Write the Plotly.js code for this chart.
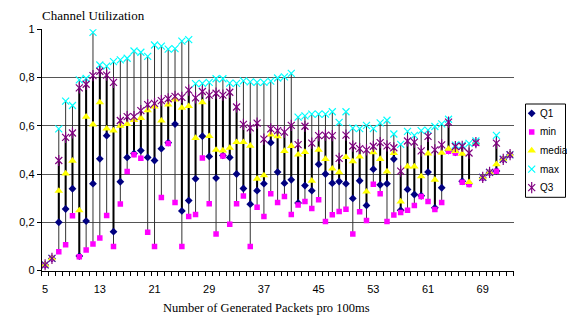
<!DOCTYPE html>
<html><head><meta charset="utf-8">
<script src="https://cdn.plot.ly/plotly-3.0.1.min.js"></script>
<style>html,body{margin:0;padding:0;background:#fff;overflow:hidden}</style>
</head><body><div id="chart" style="width:567px;height:316px"></div>
<script>
const packets = [5,6,7,8,9,10,11,12,13,14,15,16,17,18,19,20,21,22,23,24,25,26,27,28,29,30,31,32,33,34,35,36,37,38,39,40,41,42,43,44,45,46,47,48,49,50,51,52,53,54,55,56,57,58,59,60,61,62,63,64,65,66,67,68,69,70,71,72,73];
const minV = [0.023,0.05,0.078,0.107,0.227,0.057,0.085,0.11,0.135,0.228,
  0.099,0.276,0.41,0.48,0.465,0.159,0.099,0.303,0.527,0.282,
  0.099,0.224,0.232,0.466,0.277,0.151,0.475,0.192,0.277,0.309,
  0.099,0.262,0.224,0.318,0.282,0.307,0.232,0.272,0.286,0.257,
  0.293,0.203,0.231,0.245,0.254,0.151,0.244,0.207,0.358,0.318,
  0.203,0.23,0.24,0.25,0.27,0.307,0.286,0.253,0.282,0.494,
  0.487,0.366,0.357,0.528,0.385,0.406,0.411,0.461,0.48];
const q1 = [0.023,0.05,0.20,0.255,0.339,0.06,0.205,0.36,0.463,0.559,
  0.161,0.368,0.469,0.485,0.497,0.469,0.456,0.505,0.53,0.607,
  0.247,0.29,0.38,0.557,0.473,0.383,0.477,0.469,0.40,0.34,
  0.275,0.331,0.36,0.53,0.408,0.362,0.376,0.28,0.352,0.331,
  0.44,0.40,0.362,0.369,0.36,0.299,0.372,0.27,0.42,0.355,
  0.36,0.462,0.25,0.336,0.315,0.31,0.408,0.26,0.343,0.497,
  0.49,0.37,0.36,0.528,0.385,0.406,0.413,0.461,0.48];
const media = [0.023,0.05,0.33,0.402,0.455,0.249,0.637,0.605,0.697,0.588,
  0.58,0.60,0.607,0.623,0.632,0.664,0.679,0.621,0.688,0.708,
  0.674,0.681,0.549,0.697,0.557,0.50,0.497,0.508,0.532,0.532,
  0.517,0.38,0.394,0.563,0.556,0.495,0.516,0.48,0.491,0.372,
  0.50,0.462,0.422,0.407,0.47,0.452,0.472,0.327,0.49,0.462,
  0.41,0.487,0.286,0.431,0.431,0.39,0.485,0.376,0.488,0.504,
  0.495,0.484,0.366,0.53,0.386,0.407,0.44,0.461,0.48];
const q3 = [0.023,0.05,0.456,0.552,0.57,0.757,0.772,0.808,0.826,0.81,
  0.78,0.622,0.638,0.638,0.663,0.688,0.693,0.704,0.712,0.722,
  0.718,0.748,0.716,0.742,0.727,0.735,0.727,0.739,0.678,0.606,
  0.591,0.611,0.545,0.587,0.58,0.574,0.602,0.522,0.598,0.528,
  0.559,0.561,0.559,0.465,0.561,0.516,0.505,0.50,0.515,0.53,
  0.517,0.509,0.412,0.537,0.532,0.496,0.556,0.50,0.521,0.615,
  0.514,0.515,0.487,0.53,0.386,0.407,0.528,0.461,0.48];
const maxV = [0.023,0.05,0.587,0.702,0.684,0.79,0.796,0.987,0.852,0.847,
  0.866,0.873,0.88,0.91,0.905,0.888,0.935,0.93,0.918,0.92,
  0.951,0.957,0.775,0.776,0.78,0.795,0.795,0.777,0.776,0.786,
  0.782,0.78,0.78,0.785,0.798,0.803,0.817,0.636,0.641,0.648,
  0.648,0.648,0.658,0.614,0.658,0.59,0.588,0.602,0.588,0.612,
  0.623,0.566,0.523,0.577,0.56,0.58,0.582,0.597,0.608,0.627,
  0.52,0.52,0.527,0.537,0.386,0.407,0.56,0.462,0.48];
const xTickVals = [5,13,21,29,37,45,53,61,69];
const yTickVals = [0,0.2,0.4,0.6,0.8,1];
const seriesNames = ['Q1','min','media','max','Q3'];

// marker styles per series (Q3 is an x with a vertical stroke, like Excel's star)
const styles = [
  [{symbol: 'diamond', size: 6, color: '#000080', line: {width: 0}}],
  [{symbol: 'square', size: 5.5, color: '#FF00FF', line: {width: 0}}],
  [{symbol: 'triangle-up', size: 7.5, color: '#FFFF00', line: {width: 0}}],
  [{symbol: 'x-thin-open', size: 7, color: '#00FFFF', line: {width: 1.2, color: '#00FFFF'}}],
  [{symbol: 'x-thin-open', size: 7, color: '#800080', line: {width: 1.2, color: '#800080'}},
   {symbol: 'line-ns-open', size: 8, color: '#800080', line: {width: 1.2, color: '#800080'}}]
];
const seriesData = [q1, minV, media, maxV, q3];

// high-low lines and Q1-Q3 bars built from the data arrays
const wx = [], wy = [], bx = [], by = [];
packets.forEach((p, i) => {
  wx.push(p, p, null); wy.push(minV[i], maxV[i], null);
  bx.push(p, p, null); by.push(q1[i], q3[i], null);
});

const traces = [
  {x: wx, y: wy, mode: 'lines', line: {color: '#333', width: 1}, showlegend: false, hoverinfo: 'skip'},
  {x: bx, y: by, mode: 'lines', line: {color: '#000', width: 2}, showlegend: false, hoverinfo: 'skip'}
];
seriesNames.forEach((name, k) => {
  styles[k].forEach(m => traces.push({x: packets, y: seriesData[k], name: name, mode: 'markers', marker: m, showlegend: false}));
});

// whole container is the paper; plot area set through axis domains
const CW = 567, CH = 316;
const px = v => v / CW;
const py = v => 1 - v / CH;

const annotations = [{text: 'Number of Generated Packets pro 100ms', xref: 'paper', yref: 'paper', x: px(266.5), y: py(307.5),
  xanchor: 'center', yanchor: 'middle', showarrow: false,
  font: {family: 'Liberation Serif, Times New Roman, serif', size: 12.5, color: '#000'}}];
// legend: one key marker per series on a small helper axis (rows by series index) + its label
seriesNames.forEach((name, k) => {
  styles[k].forEach(m => traces.push({x: [0], y: [k], xaxis: 'x2', yaxis: 'y2', mode: 'markers', marker: m, showlegend: false, hoverinfo: 'skip'}));
  annotations.push({text: name, xref: 'paper', yref: 'y2', x: px(537.5), y: k, xanchor: 'left', yanchor: 'middle', showarrow: false,
    font: {family: 'Liberation Sans, Arial, sans-serif', size: 10, color: '#000'}});
});

const layout = {
  width: CW, height: CH,
  margin: {l: 0, r: 0, t: 0, b: 0, pad: 0, autoexpand: false},
  paper_bgcolor: '#fff', plot_bgcolor: 'rgba(0,0,0,0)',
  separators: ',.',
  showlegend: false,
  font: {family: 'Liberation Sans, Arial, sans-serif', size: 11, color: '#000'},
  title: {text: 'Channel Utilization', font: {family: 'Liberation Serif, Times New Roman, serif', size: 13, color: '#000'},
    xref: 'container', yref: 'container', x: 42/567, xanchor: 'left', y: 1 - 15/316, yanchor: 'middle'},
  xaxis: {domain: [px(41.7), px(513.5)], range: [4.5, 73.5], tickmode: 'array', tickvals: xTickVals, ticks: '', showgrid: false, zeroline: false,
    showline: true, linecolor: '#000', linewidth: 1, anchor: 'y',
    minor: {tick0: 4.5, dtick: 1, ticks: 'outside', ticklen: 4, tickcolor: '#000', tickwidth: 1, showgrid: false},
    tickfont: {family: 'Liberation Sans, Arial, sans-serif', size: 11, color: '#000'}, ticklabelstandoff: 8},
  yaxis: {domain: [py(270.5), py(29.3)], range: [0, 1], tickmode: 'array', tickvals: yTickVals, showgrid: true, gridcolor: '#555', gridwidth: 1,
    zeroline: false, showline: true, linecolor: '#000', linewidth: 1, ticks: 'outside', ticklen: 4, tickcolor: '#000', anchor: 'x',
    tickfont: {family: 'Liberation Sans, Arial, sans-serif', size: 11, color: '#000'}},
  xaxis2: {domain: [px(521.7), px(541.7)], range: [-1, 1], anchor: 'y2', visible: false, fixedrange: true},
  yaxis2: {domain: [py(197.3), py(104)], range: [4.516, -0.5], anchor: 'x2', visible: false, fixedrange: true},
  shapes: [{type: 'rect', xref: 'paper', yref: 'paper', x0: px(525.5), x1: px(565.5), y0: py(197.3), y1: py(104),
    line: {color: '#000', width: 1}, fillcolor: 'rgba(0,0,0,0)'}],
  annotations: annotations
};

Plotly.newPlot('chart', traces, layout, {displayModeBar: false, staticPlot: true});
</script></body></html>
